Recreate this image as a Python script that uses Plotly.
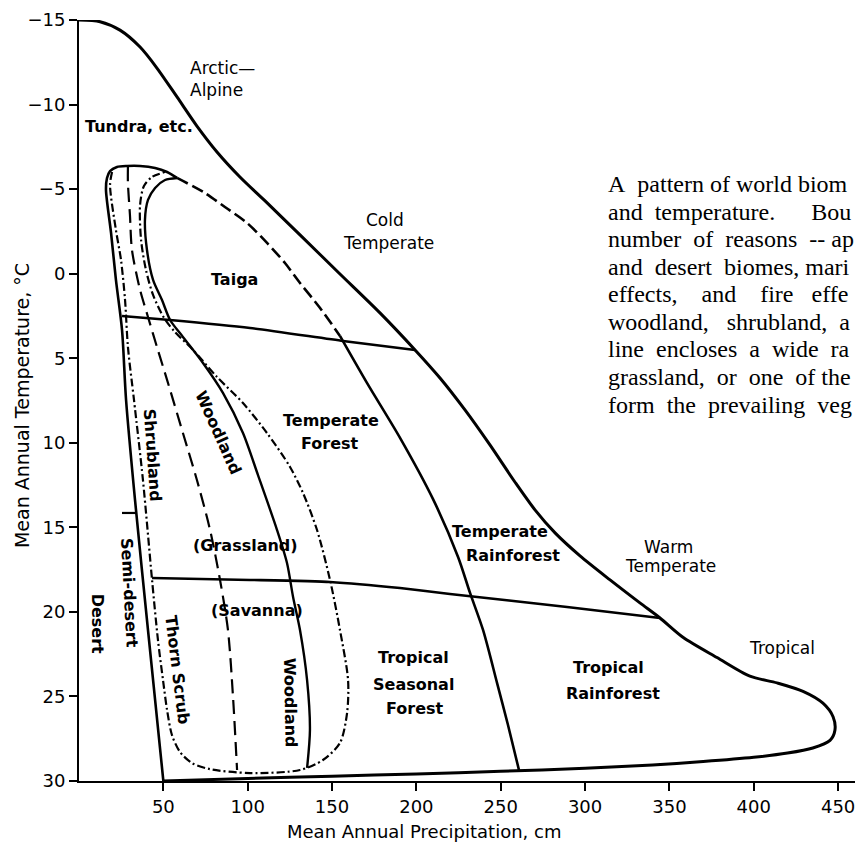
import plotly.graph_objects as go

# ---- Climate envelope of world biomes (precipitation cm, temperature °C) ----
outer_p = [0, 12.5, 24.3, 36.2, 46.2, 58.1, 69.9, 81.8, 95.4, 110.3, 131.0, 154.7,
           178.4, 199.2, 214.0, 228.8, 243.6, 258.4, 270.3, 282.2, 297.0, 314.8,
           332.5, 344.4, 358.0, 378.2, 397.7, 413.8, 429.2, 441.0, 447.0, 448.1,
           445.2, 435.0, 420.0, 400.0, 370.0, 340.0, 300.0, 250.0, 200.0, 150.0,
           100.0, 50.0]
outer_t = [-15, -14.9, -14.4, -13.4, -12.16, -10.45, -8.73, -7.2, -5.72, -4.30, -2.29, 0.02,
           2.32, 4.51, 6.17, 8.06, 10.13, 12.32, 13.97, 15.33, 16.69, 18.11,
           19.47, 20.36, 21.5, 22.7, 23.8, 24.2, 24.7, 25.4, 26.2, 27.0,
           27.6, 28.05, 28.35, 28.6, 28.85, 29.05, 29.25, 29.43, 29.58, 29.72,
           29.85, 30.0]

# desert boundary rising from the base and arching over at the cold end
desert_p = [50, 40.9, 33.2, 27.9, 25.5, 21.9, 19.0, 16.0, 16.6, 18.4, 22.5, 28.5,
            36.2, 45.1, 52.2, 58.1]
desert_t = [30, 21.08, 13.38, 7.47, 3.33, 0.37, -2.41, -4.95, -5.66, -6.07, -6.31,
            -6.37, -6.37, -6.25, -6.01, -5.66]

# taiga / cold-temperate forest limit (dashed part)
taiga_p = [58.1, 74.7, 86.5, 99.6, 112.0, 122.1, 131.0, 142.9, 154.7]
taiga_t = [-5.66, -4.77, -3.94, -3.0, -1.76, -0.63, 0.55, 2.03, 3.68]

# rainforest limit (solid part)
rain_p = [154.7, 170.7, 190.3, 209.8, 224.7, 231.8, 239.5, 247.8, 254.3, 260.8]
rain_t = [3.68, 6.46, 9.71, 13.32, 16.75, 18.88, 21.07, 24.2, 26.69, 29.35]

# woodland / forest limit
wood_p = [58.1, 51.0, 45.1, 40.9, 39.1, 40.3, 43.9, 49.2, 54.0, 61.6, 73.5, 85.4,
          97.2, 106.1, 117.4, 123.3, 126.9, 131.0, 135.2, 136.9, 135.2]
wood_t = [-5.66, -5.54, -5.07, -4.36, -3.18, -1.40, 0.37, 1.56, 2.74, 3.74, 5.28, 7.06,
          9.42, 11.91, 15.16, 17.11, 19.12, 21.07, 24.03, 26.98, 29.23]

# dot-dash envelope of grassland or woody vegetation
mixed_p = [19.6, 18.4, 21.9, 24.9, 27.3, 29.0, 32.6, 37.9, 43.3, 46.8, 49.8, 52.2,
           55.1, 59.9, 67.0, 77.7, 101.4, 131.0, 144.6, 154.7, 158.9, 159.5, 154.7,
           148.8, 141.1, 132.8, 125.1, 111.4, 97.2, 81.8, 67.6, 56.9, 50.4, 43.9,
           39.7, 36.8, 36.2, 38.5, 43.3, 51.0]
mixed_t = [-6.01, -5.25, -2.58, -0.81, 1.56, 4.33, 7.47, 12.2, 18.11, 21.66, 24.03, 25.8,
           27.28, 28.29, 28.94, 29.3, 29.53, 29.35, 28.76, 27.75, 25.98, 24.03, 21.07,
           18.11, 15.16, 12.97, 11.43, 9.42, 7.65, 6.11, 4.51, 3.45, 2.62, 1.26,
           -0.22, -1.99, -4.06, -5.19, -5.72, -6.01]

# grassland / shrubland dashed divide
grass_p = [29.0, 29.0, 30.2, 31.4, 36.2, 40.9, 46.2, 52.2, 61.6, 69.9, 77.7, 83.6,
           88.3, 91.3, 93.7]
grass_t = [-6.31, -5.36, -3.47, -1.4, 0.96, 2.56, 4.33, 6.28, 9.42, 12.2, 15.16, 18.11,
           21.07, 25.03, 29.35]

# temperature divides
cold_p = [25.5, 53.9, 101.4, 156.5, 199.2]
cold_t = [2.50, 2.74, 3.21, 3.98, 4.51]
warm_p = [43.3, 101.4, 148.8, 190.3, 219.9, 289.3, 344.4]
warm_t = [18.0, 18.11, 18.23, 18.59, 18.94, 19.71, 20.36]
semi_p = [25.5, 34.0]
semi_t = [14.15, 14.15]

x_ticks = [50, 100, 150, 200, 250, 300, 350, 400, 450]
y_ticks = [-15, -10, -5, 0, 5, 10, 15, 20, 25, 30]

# biome labels: text, p, t, angle, bold, anchor
labels = [
    ("Arctic—", 64.6, -12.16, 0, False, "left"),
    ("Alpine", 64.6, -10.86, 0, False, "left"),
    ("Tundra, etc.", 2.4, -8.68, 0, True, "left"),
    ("Cold", 181.4, -3.17, 0, False, "center"),
    ("Temperate", 183.2, -1.82, 0, False, "center"),
    ("Taiga", 91.9, 0.37, 0, True, "center"),
    ("Temperate", 149.4, 8.71, 0, True, "center"),
    ("Forest", 148.8, 10.07, 0, True, "center"),
    ("Woodland", 82.4, 9.42, 66, True, "center"),
    ("Shrubland", 43.3, 10.72, 86, True, "center"),
    ("Semi-desert", 29.6, 18.88, 87, True, "center"),
    ("Desert", 10.7, 20.7, 90, True, "center"),
    ("Thorn Scrub", 58.1, 23.43, 83, True, "center"),
    ("(Grassland)", 98.4, 16.1, 0, True, "center"),
    ("(Savanna)", 105.5, 19.89, 0, True, "center"),
    ("Woodland", 125.1, 25.38, 89, True, "center"),
    ("Tropical", 198.0, 22.7, 0, True, "center"),
    ("Seasonal", 198.0, 24.3, 0, True, "center"),
    ("Forest", 199.0, 25.7, 0, True, "center"),
    ("Temperate", 249.6, 15.22, 0, True, "center"),
    ("Rainforest", 257.3, 16.64, 0, True, "center"),
    ("Warm", 349.2, 16.16, 0, False, "center"),
    ("Temperate", 350.4, 17.29, 0, False, "center"),
    ("Tropical", 416.7, 22.13, 0, False, "center"),
    ("Tropical", 313.6, 23.3, 0, True, "center"),
    ("Rainforest", 316.5, 24.8, 0, True, "center"),
]

# justified caption lines: words with the number of spaces before the next word
NB = "\u00a0"
caption_words = [
    [("A", 2), ("pattern", 1), ("of", 1), ("world", 1), ("biom", 0)],
    [("and", 2), ("temperature.", 6), ("Bou", 0)],
    [("number", 2), ("of", 2), ("reasons", 2), ("--", 1), ("ap", 0)],
    [("and", 2), ("desert", 2), ("biomes,", 1), ("mari", 0)],
    [("effects,", 4), ("and", 4), ("fire", 3), ("effe", 0)],
    [("woodland,", 3), ("shrubland,", 2), ("a", 0)],
    [("line", 2), ("encloses", 2), ("a", 2), ("wide", 2), ("ra", 0)],
    [("grassland,", 2), ("or", 2), ("one", 2), ("of", 1), ("the", 0)],
    [("form", 2), ("the", 2), ("prevailing", 2), ("veg", 0)],
]
caption = ["".join(w + NB * n for w, n in line) for line in caption_words]

fig = go.Figure()


def add_curve(px_, tx_, dash="solid", width=2.5, smooth=0.8):
    fig.add_trace(go.Scatter(
        x=px_, y=tx_, mode="lines", hoverinfo="skip", showlegend=False,
        line=dict(color="black", width=width, dash=dash, shape="spline",
                  smoothing=smooth)))


add_curve(outer_p, outer_t, width=3)
add_curve(desert_p, desert_t, width=2.6)
add_curve(taiga_p, taiga_t, dash="12px,5px", width=2.6)
add_curve(rain_p, rain_t, width=2.6)
add_curve(wood_p, wood_t, width=2.4)
add_curve(mixed_p, mixed_t, dash="8px,3px,2px,3px", width=2.2)
add_curve(grass_p, grass_t, dash="14px,7px", width=2.2)
add_curve(cold_p, cold_t, width=2.6, smooth=0.5)
add_curve(warm_p, warm_t, width=2.6, smooth=0.5)
add_curve(semi_p, semi_t, width=2.2, smooth=0)

LABEL_FONT = "DejaVu Sans"
for text, p, t, ang, bold, anchor in labels:
    fig.add_annotation(
        x=p, y=t, xref="x", yref="y", text=f"<b>{text}</b>" if bold else text,
        showarrow=False, textangle=ang, xanchor=anchor, yanchor="middle",
        font=dict(family=LABEL_FONT, size=16 if bold else 17, color="black"))

for i, line in enumerate(caption):
    fig.add_annotation(
        x=0.679, y=-5.3 + i * 1.63, xref="paper", yref="y", text=line,
        showarrow=False, xanchor="left", yanchor="middle",
        font=dict(family="Liberation Serif", size=24, color="black"))

fig.add_annotation(
    x=0.4446, y=-0.067, xref="paper", yref="paper",
    text="Mean Annual Precipitation, cm", showarrow=False,
    xanchor="center", yanchor="middle",
    font=dict(family=LABEL_FONT, size=18, color="black"))
fig.add_annotation(
    x=-0.0735, y=0.494, xref="paper", yref="paper",
    text="Mean Annual Temperature, °C", showarrow=False, textangle=-90,
    xanchor="center", yanchor="middle",
    font=dict(family=LABEL_FONT, size=19, color="black"))

axis_common = dict(showgrid=False, zeroline=False, showline=True, linecolor="black",
                   linewidth=2, ticks="outside", ticklen=8, tickwidth=2,
                   tickcolor="black", ticklabeloverflow="allow",
                   tickfont=dict(family=LABEL_FONT, size=18, color="black"))
fig.update_xaxes(range=[0, 460], tickvals=x_ticks, **axis_common)
fig.update_yaxes(range=[30, -15], tickvals=y_ticks, **axis_common)

fig.update_layout(width=855, height=845, margin=dict(l=79, r=0, t=20, b=64),
                  paper_bgcolor="white", plot_bgcolor="white")

fig.write_html("out.html")
